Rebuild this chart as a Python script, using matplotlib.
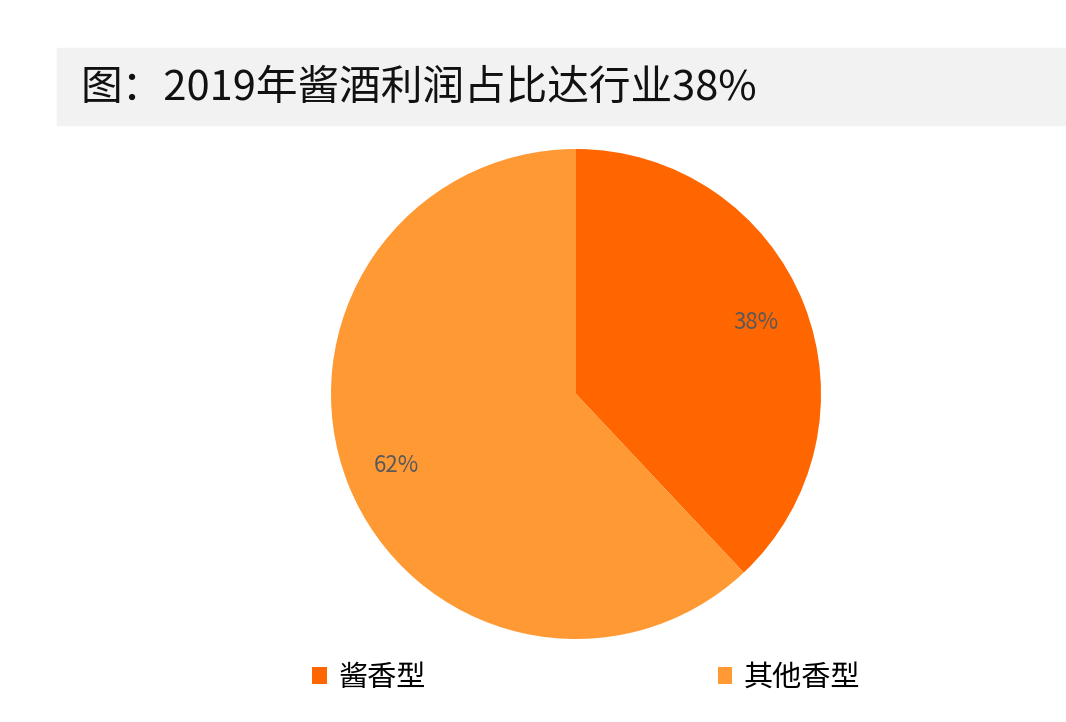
import matplotlib.pyplot as plt
from matplotlib.patches import Rectangle

plt.rcParams['font.family'] = ['Noto Sans CJK SC', 'DejaVu Sans']

labels = ['酱香型', '其他香型']
values = [38, 62]
colors = ['#FF6600', '#FF9933']
title = '图：2019年酱酒利润占比达行业38%'

fig = plt.figure(figsize=(10.66, 7.22), dpi=100)

# title bar
fig.patches.append(Rectangle((57 / 1066, 1 - 125 / 722), 1, 77 / 722,
                             transform=fig.transFigure, color='#F2F2F2', zorder=0))
fig.text(80 / 1066, 1 - 88 / 722, title, fontsize=30, fontweight='medium',
         va='center', ha='left', color='#111111')

ax = fig.add_axes([(576 - 245) / 1066, 1 - (394 + 245) / 722, 490 / 1066, 490 / 722])
wedges, _, autotexts = ax.pie(values, colors=colors, startangle=90, counterclock=False,
                              autopct='%d%%', pctdistance=0.79,
                              textprops={'fontsize': 16, 'color': '#595959'})
ax.set_xlim(-1, 1)
ax.set_ylim(-1, 1)
ax.set_aspect('equal')

fig.legend(wedges, labels, loc='center', bbox_to_anchor=(0.55, 1 - 678 / 722),
           ncol=2, frameon=False, fontsize=21, handlelength=0.5, handleheight=0.5,
           columnspacing=10, handletextpad=0.4)

fig.savefig('out.png', dpi=100)
